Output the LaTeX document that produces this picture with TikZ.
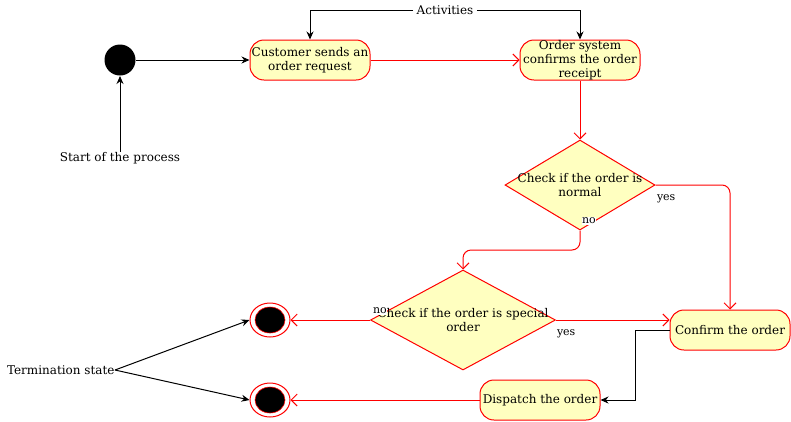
\documentclass[tikz,border=0pt]{standalone}
\usepackage{fontspec}
\setmainfont{DejaVu Serif}
\usetikzlibrary{shapes.geometric,arrows.meta}
\definecolor{actfill}{HTML}{FFFFC0}
\definecolor{actred}{HTML}{FF0000}
\begin{document}
\begin{tikzpicture}[x=1pt,y=-1pt,line width=1pt,
  every node/.style={font=\fontsize{12}{14}\selectfont},
  act/.style={draw=actred,fill=actfill,rounded corners=14pt,minimum width=120pt,minimum height=40pt,inner sep=0pt,align=center},
  dec/.style={draw=actred,fill=actfill,shape=diamond,inner sep=0pt},
  lbl/.style={inner sep=0pt,align=center},
  small/.style={inner sep=0.5pt,font=\fontsize{11}{13}\selectfont},
  redarrow/.style={draw=actred,-{Straight Barb[length=6pt,width=12pt]}},
  blackarrow/.style={draw=black,-{Stealth[length=8pt,width=7pt]}},
  endouter/.style={draw=actred,fill=white,ellipse,minimum width=40pt,minimum height=34pt,inner sep=0pt},
  endinner/.style={draw=actred,line width=0.6pt,fill=black,ellipse,minimum width=30pt,minimum height=26pt,inner sep=0pt}
]
\useasboundingbox (0,0) rectangle (791,421);
% start
\node[circle,fill=black,minimum size=31pt,inner sep=0pt] (start) at (120,60) {};
\node[lbl] (startlbl) at (120,158) {Start of the process};
\draw[blackarrow] (startlbl.north) -- (start.south);
% activities
\node[act] (cust) at (310,60) {Customer sends an\\order request};
\node[act] (osys) at (580,60) {Order system\\confirms the order\\receipt};
\draw[blackarrow] (start.east) -- (cust.west);
\draw[redarrow] (cust.east) -- (osys.west);
\node[lbl,fill=white,inner xsep=3pt] (actlbl) at (445,10) {Activities};
\draw[blackarrow] (actlbl.west) -- (310,10) -- (cust.north);
\draw[blackarrow] (actlbl.east) -- (580,10) -- (osys.north);
% decision 1
\node[dec,minimum width=150pt,minimum height=90pt] (d1) at (580,185) {};
\node[lbl] (d1txt) at (580,185) {Check if the order is\\normal};
\draw[redarrow] (osys.south) -- (d1.north);
% decision 2
\node[dec,minimum width=185pt,minimum height=100pt] (d2) at (463,320) {};
\node[lbl] (d2txt) at (463,320) {Check if the order is special\\order};
% confirm, dispatch
\node[act] (conf) at (730,330) {Confirm the order};
\node[act] (disp) at (540,400) {Dispatch the order};
% end states
\node[endouter] (end1) at (270,320) {};
\node[endinner] (end1i) at (270,320) {};
\node[endouter] (end2) at (270,400) {};
\node[endinner] (end2i) at (270,400) {};
% edges
\draw[redarrow,rounded corners=8pt] (d1.east) -- (730,185) -- (conf.north);
\node[small,anchor=west] (yes1) at (656,199) {yes};
\draw[redarrow,rounded corners=8pt] (d1.south) -- (580,250) -- (463,250) -- (d2.north);
\node[small,fill=white] (no1) at (589,221) {no};
\draw[redarrow] (d2.east) -- (d2.east -| conf.west);
\node[small,anchor=west] (yes2) at (556,334) {yes};
\draw[redarrow] (d2.west) -- (end1.east);
\node[small,fill=white] (no2) at (380,311) {no};
\draw[blackarrow] (conf.west) -- (635,330) -- (635,400) -- (disp.east);
\draw[redarrow] (disp.west) -- (end2.east);
% termination
\node[lbl,anchor=east] (term) at (115,370) {Termination state};
\draw[blackarrow] (term.east) -- (end1.west);
\draw[blackarrow] (term.east) -- (end2.west);
\end{tikzpicture}
\end{document}
